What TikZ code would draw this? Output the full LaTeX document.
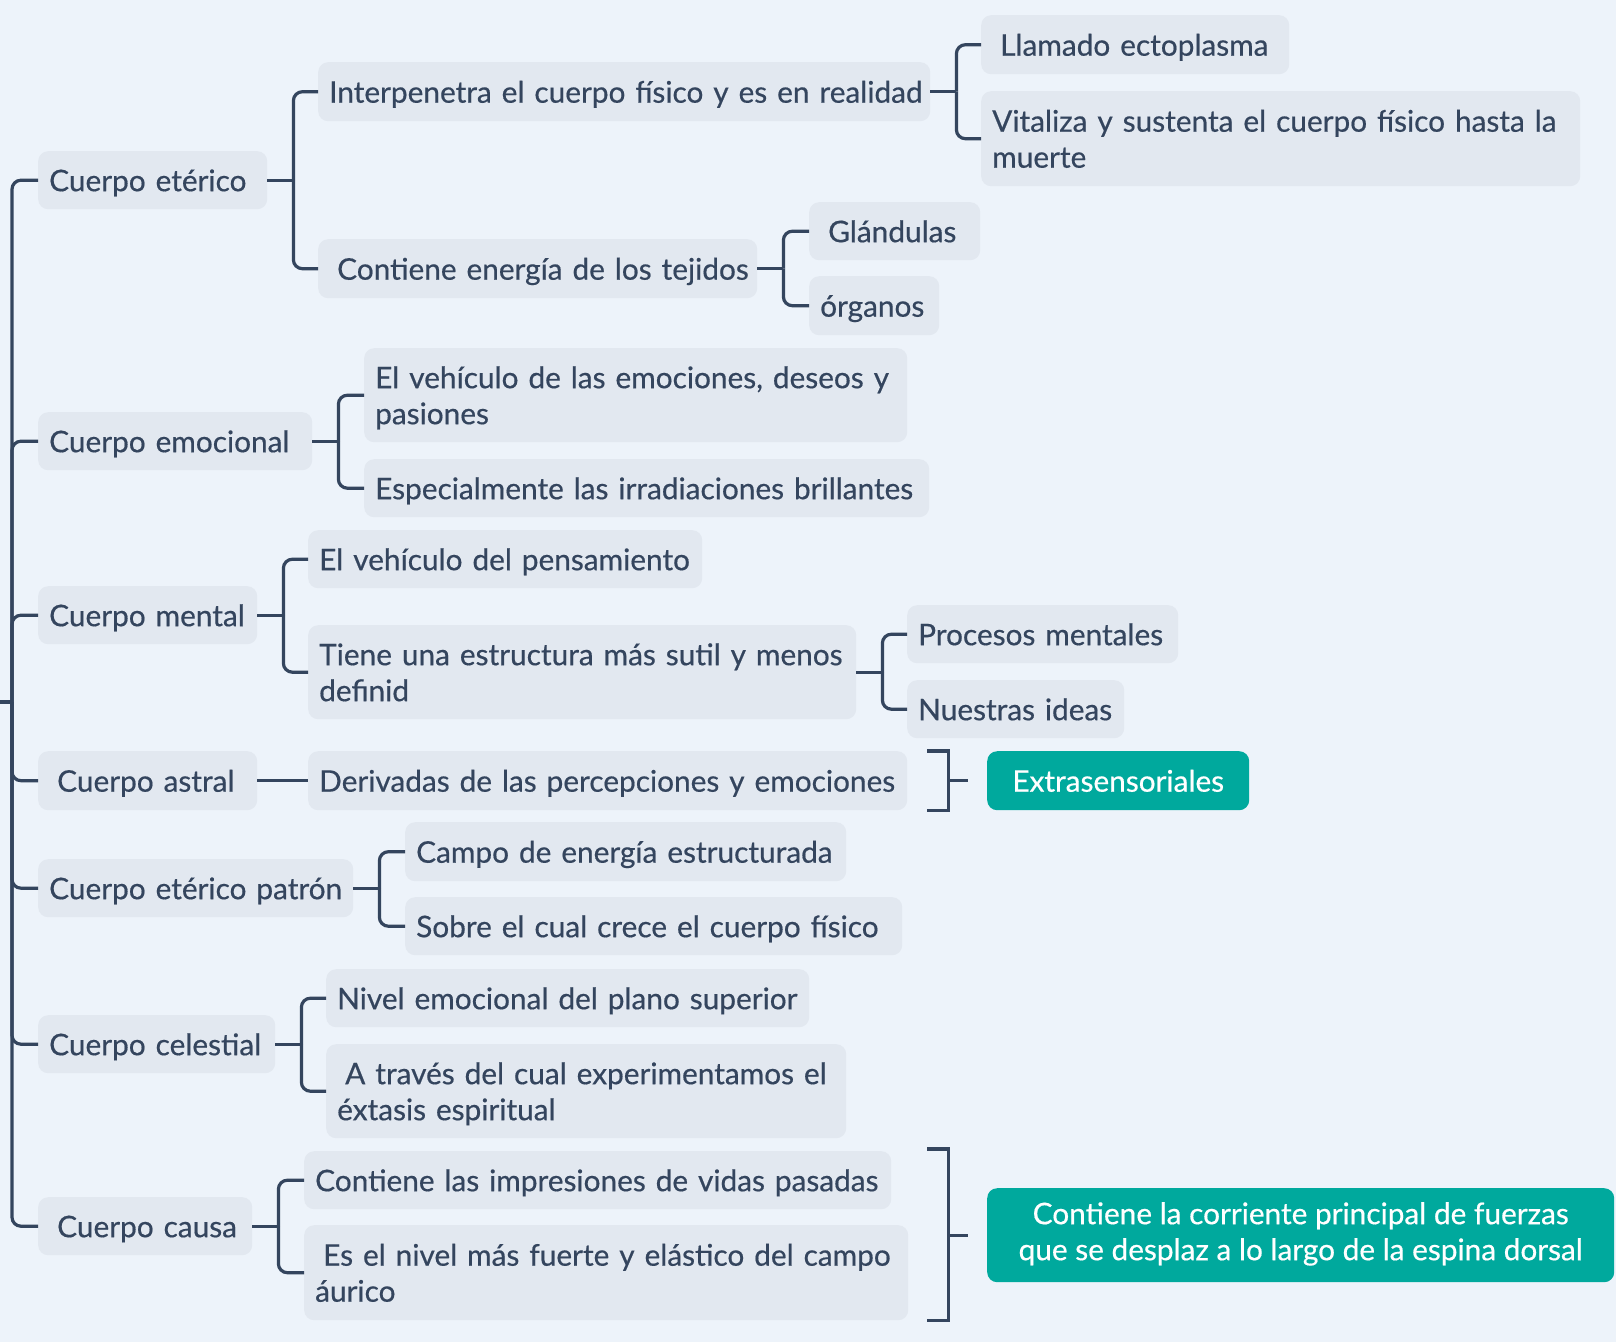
\documentclass[tikz,border=0pt]{standalone}
\usepackage{fontspec}
\setmainfont{Lato}[FakeBold=0.5]
\usetikzlibrary{calc}
\definecolor{bgc}{HTML}{EDF3FA}
\definecolor{nodefill}{HTML}{E2E8F0}
\definecolor{ink}{HTML}{34455E}
\definecolor{accent}{HTML}{00A99D}
\newcommand{\topstrut}{\rule{0pt}{30pt}}
\newcommand{\botstrut}{\rule[-8pt]{0pt}{8pt}}
\tikzset{
  nbox/.style={fill=nodefill, rounded corners=10pt, text=ink, anchor=north west,
    inner xsep=11pt, inner ysep=0pt, align=left, font=\fontsize{29.8}{36}\selectfont,
    execute at begin node={\topstrut}, execute at end node={\botstrut}},
  sbox/.style={fill=accent, rounded corners=10pt, text=white, anchor=north west,
    inner sep=0pt, align=center, font=\fontsize{29.8}{36}\selectfont,
    execute at begin node={\topstrut}, execute at end node={\botstrut}},
  conn/.style={draw=ink, line width=3.2pt, rounded corners=9pt},
  brk/.style={draw=ink, line width=3.2pt},
}
\newcommand{\ind}{\hspace*{8pt}}
\begin{document}
\begin{tikzpicture}[x=1pt,y=-1pt]
\fill[bgc] (0,0) rectangle (1616,1342);
\useasboundingbox (0,0) rectangle (1616,1342);
% level 1
\node[nbox, text width=207pt, minimum height=58pt] (ce) at (38,151) {Cuerpo etérico};
\node[nbox, text width=252pt, minimum height=58pt] (cem) at (38,412) {Cuerpo emocional};
\node[nbox, text width=197pt, minimum height=58pt] (cm) at (38,586) {Cuerpo mental};
\node[nbox, text width=197pt, minimum height=59pt] (ca) at (38,751) {\ind Cuerpo astral};
\node[nbox, text width=293pt, minimum height=58pt] (cep) at (38,859) {\mbox{Cuerpo etérico patrón}};
\node[nbox, text width=215pt, minimum height=58pt] (ccel) at (38,1015) {Cuerpo celestial};
\node[nbox, text width=192pt, minimum height=58pt] (cc) at (38,1197) {\ind Cuerpo causa};
% level 2
\node[nbox, text width=590pt, minimum height=59pt] (inter) at (318,62) {\mbox{Interpenetra el cuerpo físico y es en realidad}};
\node[nbox, text width=417pt, minimum height=59pt] (cont) at (318,239) {\mbox{\ind Contiene energía de los tejidos}};
\node[nbox, text width=521pt, minimum height=94pt] (vem) at (364,348) {\mbox{El vehículo de las emociones, deseos y}\\pasiones};
\node[nbox, text width=543pt, minimum height=58pt] (esp) at (364,459) {\mbox{Especialmente las irradiaciones brillantes}};
\node[nbox, text width=372pt, minimum height=58pt] (vp) at (308,530) {\mbox{El vehículo del pensamiento}};
\node[nbox, text width=526pt, minimum height=94pt] (tie) at (308,625) {\mbox{Tiene una estructura más sutil y menos}\\definid};
\node[nbox, text width=577pt, minimum height=59pt] (der) at (308,751) {\mbox{Derivadas de las percepciones y emociones}};
\node[nbox, text width=419pt, minimum height=59pt] (camp) at (405,822) {\mbox{Campo de energía estructurada}};
\node[nbox, text width=475pt, minimum height=58pt] (sob) at (405,897) {\mbox{Sobre el cual crece el cuerpo físico}};
\node[nbox, text width=461pt, minimum height=58pt] (niv) at (326,969) {\mbox{Nivel emocional del plano superior}};
\node[nbox, text width=498pt, minimum height=94pt] (atr) at (326,1044) {\mbox{\ind A través del cual experimentamos el}\\éxtasis espiritual};
\node[nbox, text width=565pt, minimum height=58pt] (imp) at (304,1151) {\mbox{Contiene las impresiones de vidas pasadas}};
\node[nbox, text width=582pt, minimum height=95pt] (esn) at (304,1225) {\mbox{\ind Es el nivel más fuerte y elástico del campo}\\áurico};
% level 3
\node[nbox, text width=286pt, minimum height=59pt] (lla) at (981,15) {\mbox{\ind Llamado ectoplasma}};
\node[nbox, text width=577pt, minimum height=95pt] (vit) at (981,91) {\mbox{Vitaliza y sustenta el cuerpo físico hasta la}\\muerte};
\node[nbox, text width=149pt, minimum height=58pt] (gla) at (809,202) {\ind Glándulas};
\node[nbox, text width=108pt, minimum height=59pt] (org) at (809,276) {órganos};
\node[nbox, text width=249pt, minimum height=58pt] (pro) at (907,605) {\mbox{Procesos mentales}};
\node[nbox, text width=195pt, minimum height=58pt] (nue) at (907,680) {\mbox{Nuestras ideas}};
% summaries
\node[sbox, minimum width=262pt, minimum height=59pt] (ext) at (987,751) {Extrasensoriales};
\node[sbox, minimum width=627pt, minimum height=94pt] (cor) at (987,1188) {Contiene la corriente principal de fuerzas\\que se desplaz a lo largo de la espina dorsal};
% spine
\coordinate (root) at (0,702);
\coordinate (sp) at (12,702);
\draw[conn] (root) -- (sp);
\foreach \n in {ce,cem,cm,ca,cep,ccel,cc} \draw[conn] (sp) |- (\n.west);
% branches
\draw[conn] (ce.east) -- ++(26,0) coordinate (j1);
\draw[conn] (j1) |- (inter.west); \draw[conn] (j1) |- (cont.west);
\draw[conn] (inter.east) -- ++(26,0) coordinate (j2);
\draw[conn] (j2) |- (lla.west); \draw[conn] (j2) |- (vit.west);
\draw[conn] (cont.east) -- ++(26,0) coordinate (j3);
\draw[conn] (j3) |- (gla.west); \draw[conn] (j3) |- (org.west);
\draw[conn] (cem.east) -- ++(26,0) coordinate (j4);
\draw[conn] (j4) |- (vem.west); \draw[conn] (j4) |- (esp.west);
\draw[conn] (cm.east) -- ++(26,0) coordinate (j5);
\draw[conn] (j5) |- (vp.west); \draw[conn] (j5) |- (tie.west);
\draw[conn] (tie.east) -- ++(26,0) coordinate (j6);
\draw[conn] (j6) |- (pro.west); \draw[conn] (j6) |- (nue.west);
\draw[conn] (ca.east) -- (der.west);
\draw[conn] (cep.east) -- ++(26,0) coordinate (j7);
\draw[conn] (j7) |- (camp.west); \draw[conn] (j7) |- (sob.west);
\draw[conn] (ccel.east) -- ++(26,0) coordinate (j8);
\draw[conn] (j8) |- (niv.west); \draw[conn] (j8) |- (atr.west);
\draw[conn] (cc.east) -- ++(26,0) coordinate (j9);
\draw[conn] (j9) |- (imp.west); \draw[conn] (j9) |- (esn.west);
% summary brackets
\draw[brk] ($(der.north east)+(20,0)$) -- ++(21,0) |- ($(der.south east)+(20,0)$);
\draw[brk] ($(der.east)+(41,0)$) -- ($(ext.west)+(-19,0)$);
\draw[brk] ($(esn.east |- imp.north)+(19,-2)$) -- ++(21,0) |- ($(esn.south east)+(19,0)$);
\draw[brk] ($(cor.west)+(-39,0)$) -- ($(cor.west)+(-19,0)$);
\end{tikzpicture}
\end{document}
